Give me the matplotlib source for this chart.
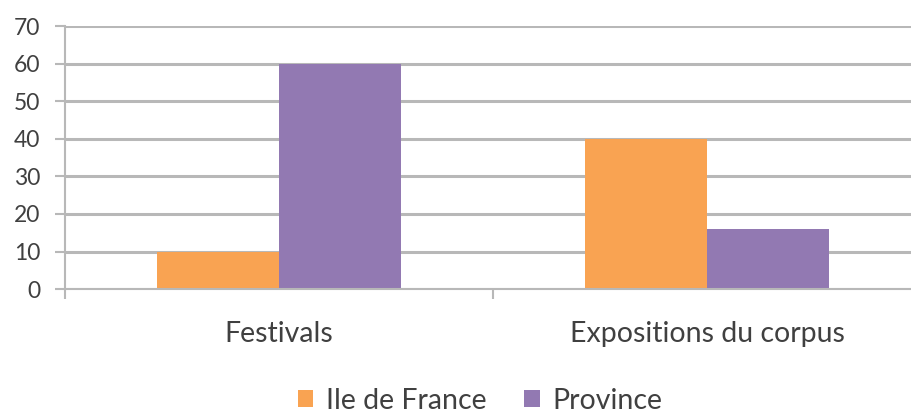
import matplotlib.pyplot as plt
import numpy as np

categories = ['Festivals', 'Expositions du corpus']
series_names = ['Ile de France', 'Province']
ile_de_france = [10, 40]
province = [60, 16]
colors = ['#F9A352', '#9279B2']

plt.rcParams['font.family'] = ['Lato', 'DejaVu Sans']
text_color = '#404040'
grid_color = '#B8B8B8'

fig = plt.figure(figsize=(9.11, 4.13), dpi=100)
ax = fig.add_axes([0.0714, 0.300, 0.9396, 0.637])

x = np.arange(len(categories))
w = 0.285
ax.bar(x - w / 2, ile_de_france, width=w, color=colors[0], label=series_names[0], zorder=3)
ax.bar(x + w / 2, province, width=w, color=colors[1], label=series_names[1], zorder=3)

ax.set_xlim(-0.5, 1.5)
ax.set_ylim(0, 70)
ax.set_yticks(range(0, 71, 10))
ax.yaxis.grid(True, color=grid_color, linewidth=2.2, zorder=0)

# category labels centred, boundary ticks between groups
ax.set_xticks(x)
ax.set_xticklabels(categories, fontsize=20.5, color=text_color)
ax.tick_params(axis='x', length=0, pad=23)
ax.set_xticks([-0.5, 0.5], minor=True)
ax.tick_params(axis='x', which='minor', length=7, width=1.5, color=grid_color)
ax.tick_params(axis='y', length=7, width=1.5, color=grid_color,
               labelsize=16.5, labelcolor=text_color, pad=11)

for side in ['top', 'right']:
    ax.spines[side].set_visible(False)
for side in ['left', 'bottom']:
    ax.spines[side].set_color(grid_color)
    ax.spines[side].set_linewidth(1.5)
    ax.spines[side].set_zorder(4)

leg = fig.legend(loc='center', bbox_to_anchor=(0.527, 0.03), ncol=2, frameon=False,
                 fontsize=20.5, handlelength=0.55, handleheight=0.55, handletextpad=0.45,
                 columnspacing=1.3)
for t in leg.get_texts():
    t.set_color(text_color)

fig.savefig('out.png', dpi=100)
